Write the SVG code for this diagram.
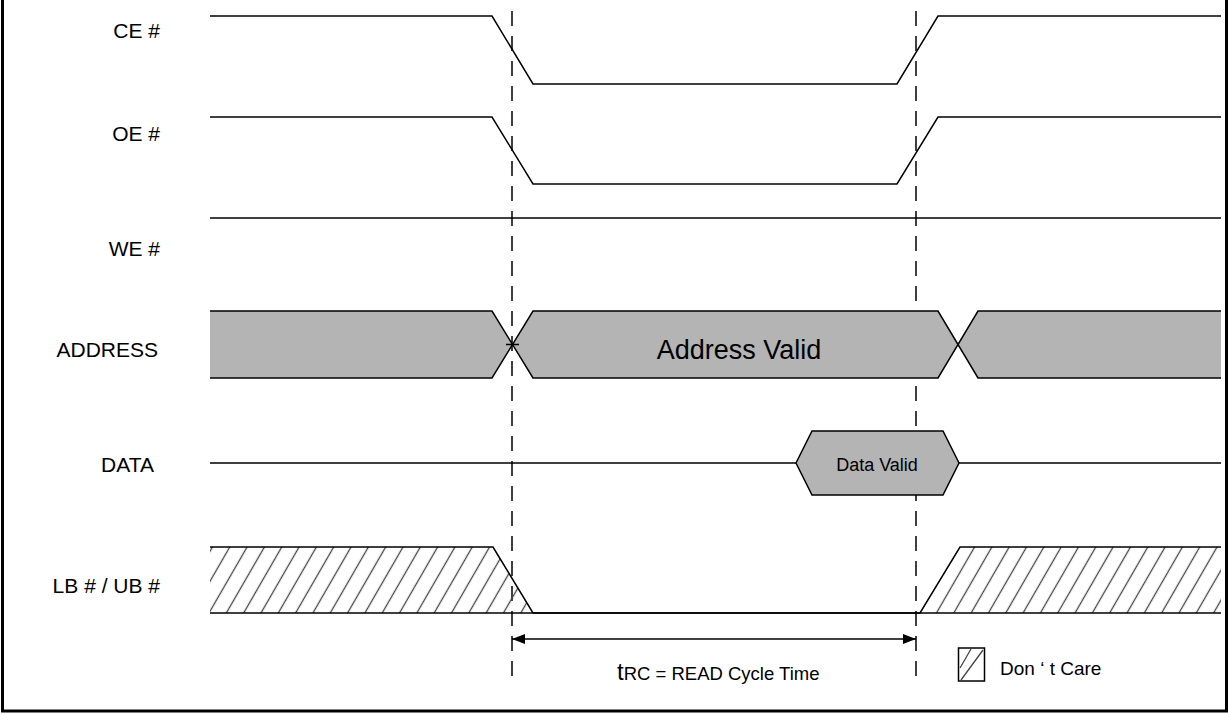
<svg xmlns="http://www.w3.org/2000/svg" width="1228" height="714" viewBox="0 0 1228 714">
<style>
.sig{fill:none;stroke:#000;stroke-width:1.5}
.bus{fill:#b4b4b4;stroke:none}
.lbl{font-family:"Liberation Sans",Arial,sans-serif;font-size:21px;fill:#000;text-anchor:end}
.txt{font-family:"Liberation Sans",Arial,sans-serif;fill:#000}
.guide{fill:none;stroke:#000;stroke-width:1.5;stroke-dasharray:15 10}
</style>
<defs>
<pattern id="hatch" width="15" height="15" patternUnits="userSpaceOnUse" patternTransform="rotate(30)">
<line x1="7.5" y1="0" x2="7.5" y2="15" stroke="#444" stroke-width="1.3"/>
</pattern>
<marker id="ah" markerWidth="13" markerHeight="10" refX="13" refY="5" orient="auto-start-reverse" markerUnits="userSpaceOnUse">
<path d="M0,0 L13,5 L0,10 z" fill="#000"/>
</marker>
</defs>
<rect x="2.5" y="-3" width="1224" height="714" fill="#fff" stroke="#000" stroke-width="3"/>

<g id="connectors">
<line class="guide" x1="512" y1="11" x2="512" y2="678"/>
<line class="guide" x1="916" y1="11" x2="916" y2="678"/>
<line x1="512" y1="639" x2="916" y2="639" stroke="#000" stroke-width="1.5" marker-start="url(#ah)" marker-end="url(#ah)"/>
</g>

<g id="ce">
<text class="lbl" x="160" y="38">CE #</text>
<path class="sig" d="M210,16 H492 L533,84 H897 L938,16 H1221"/>
</g>
<g id="oe">
<text class="lbl" x="160" y="141">OE #</text>
<path class="sig" d="M210,117 H492 L533,184 H897 L938,117 H1221"/>
</g>
<g id="we">
<text class="lbl" x="160" y="256">WE #</text>
<path class="sig" d="M210,218 H1221"/>
</g>
<g id="address">
<text class="lbl" x="158" y="357">ADDRESS</text>
<polygon class="bus" points="210,311 492,311 512.5,344.5 492,378 210,378"/>
<polygon class="bus" points="512.5,344.5 533,311 938,311 958,344.5 938,378 533,378"/>
<polygon class="bus" points="958,344.5 978,311 1221,311 1221,378 978,378"/>
<path class="sig" d="M210,311 H492 L533,378 H938 L978,311 H1221"/>
<path class="sig" d="M210,378 H492 L533,311 H938 L978,378 H1221"/>
<path class="sig" d="M506,344.5 H519"/>
<text class="txt" x="739" y="359" font-size="27" text-anchor="middle">Address Valid</text>
</g>
<g id="data">
<text class="lbl" x="154" y="472">DATA</text>
<path class="sig" d="M210,463 H796 M959,463 H1221"/>
<polygon points="796,463 812,431 943,431 959,463 943,495 812,495" fill="#b4b4b4" stroke="#000" stroke-width="1.5"/>
<text class="txt" x="877" y="471" font-size="18" text-anchor="middle">Data Valid</text>
</g>
<g id="lbub">
<text class="lbl" x="160" y="593">LB # / UB #</text>
<polygon points="210,547 493,547 533,613 210,613" fill="url(#hatch)"/>
<polygon points="920,613 960,547 1221,547 1221,613" fill="url(#hatch)"/>
<path class="sig" d="M210,547 H493 L533,613 H920 L960,547 H1221"/>
<path class="sig" d="M210,613 H1221"/>
</g>

<g id="trc-label">
<text class="txt" x="617" y="680"><tspan font-size="24">t</tspan><tspan font-size="18.5">RC = READ Cycle Time</tspan></text>
</g>

<g id="legend">
<rect x="958.5" y="648" width="26" height="33" fill="#fff" stroke="#000" stroke-width="1.5"/>
<path d="M960,668 L971,649 M961,680 L983,650" stroke="#444" stroke-width="1.3" fill="none"/>
<text class="txt" x="1000" y="675" font-size="19">Don ‘ t Care</text>
</g>
</svg>
